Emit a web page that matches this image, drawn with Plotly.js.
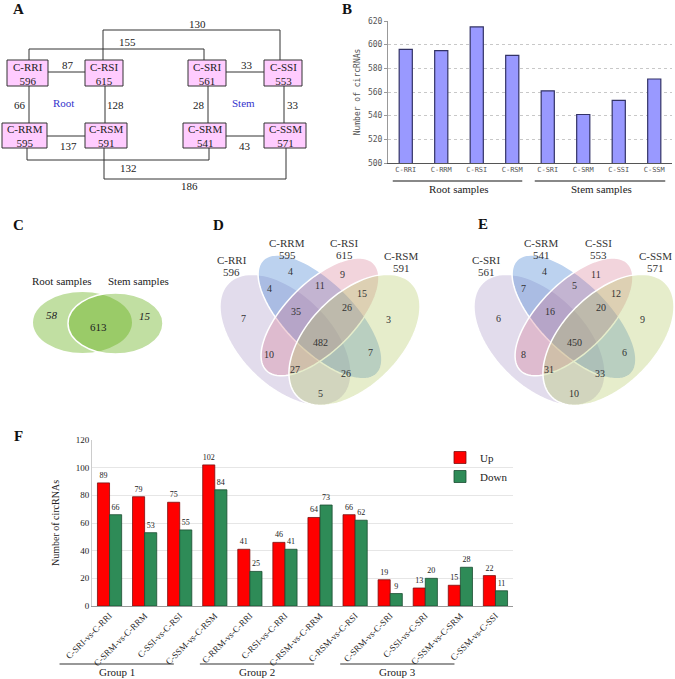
<!DOCTYPE html>
<html><head><meta charset="utf-8">
<script src="https://cdn.plot.ly/plotly-3.0.1.min.js"></script>
<style>body{margin:0;background:#fff}#chart{width:675px;height:679px}</style>
</head><body><div id="chart"></div>
<script>
// ---------------- DATA ----------------
const sampleNames  = ['C-RRI','C-RRM','C-RSI','C-RSM','C-SRI','C-SRM','C-SSI','C-SSM'];
const sampleCounts = [596, 595, 615, 591, 561, 541, 553, 571];
const tissueGroups = ['Root samples','Stem samples'];

// panel A: shared circRNAs between sample pairs
const edgeFrom   = ['C-RRI','C-SRI','C-RRI','C-RSI','C-SRI','C-SSI','C-RRM','C-SRM','C-RRI','C-RSI','C-RRM','C-RSM'];
const edgeTo     = ['C-RSI','C-SSI','C-RRM','C-RSM','C-SRM','C-SSM','C-RSM','C-SSM','C-SRI','C-SSI','C-SRM','C-SSM'];
const edgeValues = [87, 33, 66, 128, 28, 33, 137, 43, 155, 130, 132, 186];

// panel C: root vs stem Venn (root only, shared, stem only)
const vennCSets   = ['Root samples','Stem samples'];
const vennCCounts = [58, 613, 15];

// panels D/E: four-set Venn region counts
const vennRegions = ['A','B','C','D','AB','BC','CD','ABC','BCD','ABCD','AC','BD','ACD','ABD','AD'];
const vennDSets   = ['C-RRI','C-RRM','C-RSI','C-RSM'];
const vennDCounts = [7, 4, 9, 3, 4, 11, 15, 35, 26, 482, 10, 7, 27, 26, 5];
const vennESets   = ['C-SRI','C-SRM','C-SSI','C-SSM'];
const vennECounts = [6, 4, 11, 9, 7, 5, 12, 16, 20, 450, 8, 6, 31, 33, 10];

// panel F: differentially expressed circRNAs
const comparisons = ['C-SRI-vs-C-RRI','C-SRM-vs-C-RRM','C-SSI-vs-C-RSI','C-SSM-vs-C-RSM',
                     'C-RRM-vs-C-RRI','C-RSI-vs-C-RRI','C-RSM-vs-C-RRM','C-RSM-vs-C-RSI',
                     'C-SRM-vs-C-SRI','C-SSI-vs-C-SRI','C-SSM-vs-C-SRM','C-SSM-vs-C-SSI'];
const upCounts    = [89, 79, 75, 102, 41, 46, 64, 66, 19, 13, 15, 22];
const downCounts  = [66, 53, 55, 84, 25, 41, 73, 62, 9, 20, 28, 11];
const groupNames  = ['Group 1','Group 2','Group 3'];
const groupSizes  = [4, 4, 4];

// ---------------- LAYOUT HELPERS ----------------
const W = 675, H = 679;
const X = px => px / W;
const Y = py => 1 - py / H;
const SERIF = '"Liberation Serif", "Times New Roman", serif';
const MONO = '"DejaVu Sans Mono", monospace';
const shapes = [], annotations = [];
function txt(px, py, text, o) {
  o = o || {};
  annotations.push(Object.assign({xref:'paper', yref:'paper', x:X(px), y:Y(py), text:text, showarrow:false,
    xanchor:'center', yanchor:'middle',
    font:{family:SERIF, size:o.size||11, color:o.color||'#222'}}, o.extra||{}));
}
function line(pts, color, width) {
  shapes.push({type:'path', xref:'paper', yref:'paper',
    path: 'M ' + pts.map(p => X(p[0]) + ',' + Y(p[1])).join(' L '),
    line:{color:color||'#333', width:width||1}});
}

// panel letters
[['A',18,9],['B',347,9],['C',18,225],['D',218,225],['E',483,224],['F',18,436]].forEach(l =>
  txt(l[1], l[2], '<b>' + l[0] + '</b>', {size:15, color:'#111'}));

// ---------------- PANEL A ----------------
const boxPos = {
  'C-RRI':[7,60,48,86],  'C-RSI':[85,60,123,86],  'C-SRI':[188,60,226,86],  'C-SSI':[264,60,302,86],
  'C-RRM':[2,123,47,148],'C-RSM':[85,123,127,148],'C-SRM':[183,123,226,148],'C-SSM':[264,123,306,148]
};
const edgeRoutes = {
  'C-RRI|C-RSI': {pts:[[48,72],[85,72]], lab:[68,65]},
  'C-SRI|C-SSI': {pts:[[226,72],[264,72]], lab:[247,65]},
  'C-RRI|C-RRM': {pts:[[29,86],[29,123]], lab:[20,105]},
  'C-RSI|C-RSM': {pts:[[105,86],[105,123]], lab:[115,105]},
  'C-SRI|C-SRM': {pts:[[208,86],[208,123]], lab:[199,105]},
  'C-SSI|C-SSM': {pts:[[284,86],[284,123]], lab:[293,105]},
  'C-RRM|C-RSM': {pts:[[47,136],[85,136]], lab:[68,146]},
  'C-SRM|C-SSM': {pts:[[226,136],[264,136]], lab:[245,146]},
  'C-RRI|C-SRI': {pts:[[29,60],[29,49],[204,49],[204,60]], lab:[127,42]},
  'C-RSI|C-SSI': {pts:[[103,60],[103,30],[280,30],[280,60]], lab:[197,24]},
  'C-RRM|C-SRM': {pts:[[27,148],[27,160],[209,160],[209,148]], lab:[128,168]},
  'C-RSM|C-SSM': {pts:[[104,148],[104,179],[286,179],[286,148]], lab:[189,186]}
};
edgeValues.forEach((v, i) => {
  const r = edgeRoutes[edgeFrom[i] + '|' + edgeTo[i]];
  line(r.pts, '#333', 1);
  txt(r.lab[0], r.lab[1], String(v));
});
sampleNames.forEach((n, i) => {
  const b = boxPos[n];
  shapes.push({type:'rect', xref:'paper', yref:'paper', x0:X(b[0]), x1:X(b[2]), y0:Y(b[3]), y1:Y(b[1]),
    fillcolor:'#ffccff', line:{color:'#333', width:1}});
  txt((b[0]+b[2])/2, (b[1]+b[3])/2 + 0.5, n + '<br>' + sampleCounts[i], {size:11});
});
txt(63, 103, 'Root', {color:'#3333cc'});
txt(244, 103, 'Stem', {color:'#3333cc'});

// ---------------- PANEL C ----------------
const cFill = 'rgba(93,170,10,0.38)';
shapes.push({type:'circle', xref:'paper', yref:'paper', x0:X(33), x1:X(132), y0:Y(353), y1:Y(292),
  fillcolor:cFill, line:{width:0}});
shapes.push({type:'circle', xref:'paper', yref:'paper', x0:X(68), x1:X(163), y0:Y(354), y1:Y(293),
  fillcolor:cFill, line:{color:'#ffffff', width:1.5}});
txt(62, 281, vennCSets[0]);
txt(138, 281, vennCSets[1]);
txt(52, 315, '<i>' + vennCCounts[0] + '</i>');
txt(98, 327, String(vennCCounts[1]));
txt(145, 316, '<i>' + vennCCounts[2] + '</i>');

// ---------------- PANELS D / E ----------------
const quadEll = [
  {x:0.35, y:0.47, a:0.35, b:0.20, r:135, fill:'rgba(158,138,192,0.30)'},
  {x:0.50, y:0.57, a:0.35, b:0.15, r:135, fill:'rgba(78,137,212,0.38)'},
  {x:0.50, y:0.57, a:0.33, b:0.15, r:45,  fill:'rgba(212,112,138,0.30)'},
  {x:0.65, y:0.47, a:0.35, b:0.20, r:45,  fill:'rgba(178,201,98,0.33)'}
];
const regionOffset = {A:[-76,318], B:[-30,271], C:[22,274], D:[68,319], AB:[-51,288], BC:[0,285], CD:[42,293],
  ABC:[-24,312], BCD:[27,308], ABCD:[0,342], AC:[-51,354], BD:[50,352], ACD:[-25,370], ABD:[26,373], AD:[0,393]};
const setLabelOffset = [[-88,260],[-33,243],[24,243],[81,256]];
function drawQuad(cx, top, s, sets, counts) {
  quadEll.forEach(e => {
    const th = e.r * Math.PI / 180, pts = [];
    for (let k = 0; k < 96; k++) {
      const t = 2 * Math.PI * k / 96;
      const ux = e.a * Math.cos(t), uy = e.b * Math.sin(t);
      const x = e.x + ux * Math.cos(th) - uy * Math.sin(th);
      const y = e.y + ux * Math.sin(th) + uy * Math.cos(th);
      pts.push(X(cx + (x - 0.5) * s) + ',' + Y(top + (0.839 - y) * s));
    }
    shapes.push({type:'path', xref:'paper', yref:'paper', path:'M ' + pts.join(' L ') + ' Z',
      fillcolor:e.fill, line:{color:'#ffffff', width:1.5}});
  });
  vennRegions.forEach((r, i) => {
    const o = regionOffset[r];
    txt(cx + o[0], o[1], String(counts[i]), {size:10, color:'#333'});
  });
  sets.forEach((n, i) => {
    const o = setLabelOffset[i];
    txt(cx + o[0], o[1], n, {size:11, color:'#333'});
    txt(cx + o[0], o[1] + 12, String(sampleCounts[sampleNames.indexOf(n)]), {size:11, color:'#333'});
  });
}
drawQuad(320, 255, 230, vennDSets, vennDCounts);
drawQuad(574, 255, 230, vennESets, vennECounts);

// ---------------- PANEL B axis geometry ----------------
const bL = 388, bR = 672, bT = 21, bB = 163;
const bStep = (bR - bL) / sampleNames.length;
const bC = i => bL + bStep * (i + 0.5);
line([[bC(0)-13,181],[bC(3)+10,181]], '#888', 2);
line([[bC(4)-13,181],[bC(7)+11,181]], '#888', 2);
txt((bC(0)+bC(3))/2, 189, tissueGroups[0]);
txt((bC(4)+bC(7))/2, 189, tissueGroups[1]);

// ---------------- PANEL F axis geometry ----------------
const fL = 92, fR = 513, fT = 440, fB = 606;
const fStep = (fR - fL) / comparisons.length;
const fC = i => fL + fStep * (i + 0.5);
let gi = 0;
groupNames.forEach((g, k) => {
  const a = gi, b = gi + groupSizes[k] - 1;
  const x0 = fC(a) - 50, x1 = fC(b) - 41;
  line([[x0,664],[x1,664]], '#333', 1.2);
  txt((x0 + x1) / 2, 672, g, {size:11});
  gi += groupSizes[k];
});

// ---------------- TRACES ----------------
const valFont = {family:SERIF, size:8, color:'#222'};
const traces = [
  {type:'bar', x:sampleNames, y:sampleCounts, xaxis:'x', yaxis:'y', width:0.37, showlegend:false,
   marker:{color:'#9999ff', line:{color:'#333366', width:1.2}}, hoverinfo:'x+y'},
  {type:'bar', name:'Up', x:comparisons, y:upCounts, xaxis:'x2', yaxis:'y2',
   marker:{color:'#ff0000', line:{color:'#7a1010', width:0.8}},
   text:upCounts.map(String), textposition:'outside', constraintext:'none', cliponaxis:false,
   textfont:valFont, outsidetextfont:valFont},
  {type:'bar', name:'Down', x:comparisons, y:downCounts, xaxis:'x2', yaxis:'y2',
   marker:{color:'#2e8b57', line:{color:'#1b4d31', width:0.8}},
   text:downCounts.map(String), textposition:'outside', constraintext:'none', cliponaxis:false,
   textfont:valFont, outsidetextfont:valFont}
];

const layout = {
  width:W, height:H, margin:{l:0, r:0, t:0, b:0}, paper_bgcolor:'#fff', plot_bgcolor:'rgba(0,0,0,0)',
  barmode:'group', bargap:0.31, bargroupgap:0,
  xaxis:{domain:[X(bL), X(bR)], anchor:'y', type:'category', showline:true, linecolor:'#555', linewidth:1,
    ticks:'', tickfont:{family:MONO, size:7, color:'#555'}, fixedrange:true},
  yaxis:{domain:[Y(bB), Y(bT)], anchor:'x', range:[500,620], dtick:20, showline:true, linecolor:'#999',
    ticks:'outside', ticklen:3, tickcolor:'#999', gridcolor:'#c8c8c8', griddash:'dot', zeroline:false,
    tickfont:{family:MONO, size:8, color:'#555'}, fixedrange:true,
    title:{text:'Number of circRNAs', font:{family:MONO, size:8, color:'#555'}, standoff:6}},
  xaxis2:{domain:[X(fL), X(fR)], anchor:'y2', type:'category', showline:true, linecolor:'#999', ticks:'',
    tickangle:-45, tickfont:{family:SERIF, size:9, color:'#222'}, fixedrange:true},
  yaxis2:{domain:[Y(fB), Y(fT)], anchor:'x2', range:[0,120], dtick:20, showline:true, linecolor:'#ccc',
    gridcolor:'#e6e6e6', zeroline:false, ticks:'', tickfont:{family:SERIF, size:9, color:'#222'}, fixedrange:true,
    title:{text:'Number of circRNAs', font:{family:SERIF, size:10, color:'#222'}, standoff:14}},
  legend:{x:X(440), y:Y(443), xanchor:'left', yanchor:'top', bgcolor:'rgba(0,0,0,0)',
    font:{family:SERIF, size:11, color:'#222'}, itemwidth:30, tracegroupgap:0},
  shapes:shapes, annotations:annotations
};
Plotly.newPlot('chart', traces, layout, {displayModeBar:false, staticPlot:true});
</script></body></html>
